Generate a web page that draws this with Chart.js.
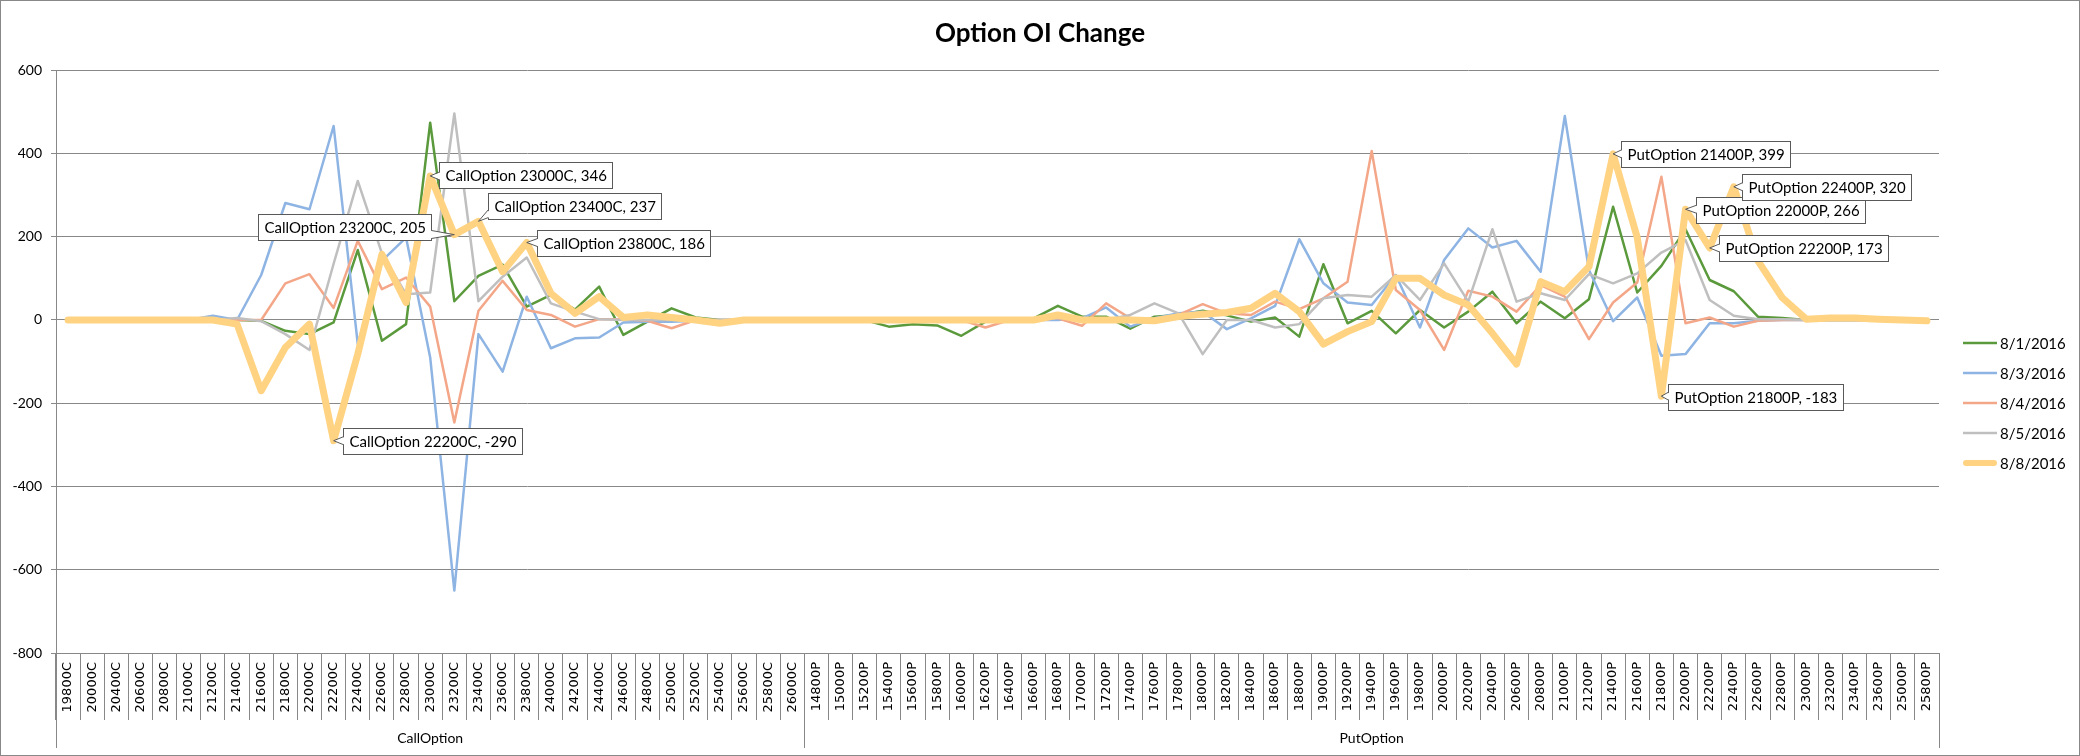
<!DOCTYPE html>
<html lang="en">
<head>
  <meta charset="UTF-8" />
  <title>Option OI Change</title>
  <script src="https://cdn.jsdelivr.net/npm/chart.js@4.4.1/dist/chart.umd.min.js"></script>
  <style>
    html, body { margin: 0; padding: 0; background: #fff; }
    #wrap { width: 2080px; height: 756px; }
  </style>
</head>
<body>
  <div id="wrap"><canvas id="oiChart" width="2080" height="756"></canvas></div>
  <script>
    // category labels, two groups on the x axis
    const callStrikes = ['19800C','20000C','20400C','20600C','20800C','21000C','21200C','21400C','21600C','21800C',
      '22000C','22200C','22400C','22600C','22800C','23000C','23200C','23400C','23600C','23800C','24000C','24200C',
      '24400C','24600C','24800C','25000C','25200C','25400C','25600C','25800C','26000C'];
    const putStrikes = ['14800P','15000P','15200P','15400P','15600P','15800P','16000P','16200P','16400P','16600P',
      '16800P','17000P','17200P','17400P','17600P','17800P','18000P','18200P','18400P','18600P','18800P','19000P',
      '19200P','19400P','19600P','19800P','20000P','20200P','20400P','20600P','20800P','21000P','21200P','21400P',
      '21600P','21800P','22000P','22200P','22400P','22600P','22800P','23000P','23200P','23400P','23600P','25000P','25800P'];
    const groupNames = ['CallOption', 'PutOption'];
    const categories = callStrikes.concat(putStrikes);

    // OI change per day (calls first, then puts)
    const oi0801 = [0,0,0,0,0,0,0, 0,-2,-26,-34,-6,168,-50,-10,474,45,106,133,32,60,25,80,-36,-4,28,6,0,0,0,0,
      0,0,0,-16,-10,-13,-38,-4,0,4, 34,8,8,-21,8,12,22,11,-4,6, -40,134,-8,22,-32,24,-18,20,68,-8,
      44,4,50,272,66,130,218,96,69,8, 5,0,0,0,0,0,0];
    const oi0803 = [0,0,0,0,0,0,10, 0,108,281,266,466,-58,142,198,-90,-650,-34,-124,56,-68,-44,-42,-6,-4,-4,-2,0,0,0,0,
      0,0,0,0,0,0,0,0,0,0, 0,4,30,-16,4,16,20,-22,4,34, 194,88,42,36,108,-18,144,220,174,190,
      116,490,120,-3,54,-86,-82,-8,-8,-2, 0,0,0,0,0,0,0];
    const oi0804 = [0,0,0,0,0,0,0, 0,0,88,110,29,190,74,102,32,-246,22,94,24,12,-16,2,2,-2,-20,0,0,0,0,0,
      0,0,0,0,0,0,0,-18,0,0, 4,-14,40,4,0,12,38,16,12,44, 26,52,92,406,72,24,-72,70,56,20,
      84,56,-46,42,90,344,-8,6,-16,-2, 0,0,0,0,0,0,0];
    const oi0805 = [0,0,0,0,0,0,0, 5,-3,-34,-72,135,334,160,62,66,496,45,104,150,40,20,2,0,0,0,0,0,0,0,0,
      0,0,0,0,0,0,0,0,0,0, 4,4,0,12,40,16,-82,0,0,-18, -10,52,60,56,108,48,136,44,218,44,
      64,48,110,88,112,162,192,48,10,2, 2,0,0,0,0,0,0];
    const oi0808 = [0,0,0,0,0,0,0, -10,-170,-66,-10,-290,-82,158,42,346,205,237,116,186,64,16,56,6,12,6,0,-8,0,0,0,
      0,0,0,0,0,0,0,0,0,0, 12,0,0,0,-2,8,14,18,28,64, 20,-58,-28,-4,100,100,60,36,-32,-106,
      92,68,128,399,198,-183,266,173,320,142, 54,2,5,5,2,0,-2];
    const seriesNames = ['8/1/2016', '8/3/2016', '8/4/2016', '8/5/2016', '8/8/2016'];

    // strikes on the 8/8 line that carry a data callout
    const calloutStrikes = ['22200C','23000C','23200C','23400C','23800C','21400P','21800P','22000P','22200P','22400P'];

    // where each callout box sits relative to its point (px)
    const calloutPlace = {
      '22200C': { dx: 9, dy: -13 },
      '23000C': { dx: 9, dy: -14 },
      '23200C': { dx: -23, dy: -21, side: 'right' },
      '23400C': { dx: 10, dy: -28 },
      '23800C': { dx: 10, dy: -13 },
      '21400P': { dx: 8, dy: -13 },
      '21800P': { dx: 7, dy: -12 },
      '22000P': { dx: 10, dy: -12 },
      '22200P': { dx: 9, dy: -13 },
      '22400P': { dx: 8, dy: -13 }
    };

    const axisGray = '#888888';

    const excelLook = {
      id: 'excelLook',
      beforeDraw(chart) {
        const ctx = chart.ctx;
        ctx.save();
        ctx.fillStyle = '#fff';
        ctx.fillRect(0, 0, chart.width, chart.height);
        ctx.restore();
      },
      afterDraw(chart) {
        const ctx = chart.ctx;
        const xs = chart.scales.x;
        const area = chart.chartArea;
        ctx.save();

        // group row under the strike labels
        const step = xs.getPixelForValue(1) - xs.getPixelForValue(0);
        const split = xs.getPixelForValue(callStrikes.length - 1) + step / 2;
        const edges = [area.left, split, area.right];
        ctx.strokeStyle = axisGray;
        ctx.lineWidth = 1;
        edges.forEach(e => {
          const px = Math.round(e) + 0.5;
          ctx.beginPath();
          ctx.moveTo(px, area.bottom);
          ctx.lineTo(px, 748);
          ctx.stroke();
        });
        ctx.fillStyle = '#000';
        ctx.font = '14px Lato';
        ctx.textAlign = 'center';
        ctx.textBaseline = 'middle';
        ctx.fillText(groupNames[0], (edges[0] + edges[1]) / 2, 738);
        ctx.fillText(groupNames[1], (edges[1] + edges[2]) / 2, 738);

        // legend
        ctx.textAlign = 'left';
        ctx.font = '15px Lato';
        chart.data.datasets.forEach((ds, k) => {
          const ly = 343 + k * 30;
          ctx.strokeStyle = ds.borderColor;
          ctx.lineWidth = k === 4 ? 6 : 2.5;
          ctx.lineCap = k === 4 ? 'round' : 'butt';
          ctx.beginPath();
          ctx.moveTo(k === 4 ? 1966 : 1963, ly);
          ctx.lineTo(k === 4 ? 1994 : 1997, ly);
          ctx.stroke();
          ctx.fillStyle = '#000';
          ctx.fillText(ds.label, 2000, ly + 1);
        });

        // data callouts on the 8/8 line
        const meta = chart.getDatasetMeta(4);
        ctx.font = '15px Lato';
        ctx.lineCap = 'butt';
        calloutStrikes.forEach(s => {
          const i = categories.indexOf(s);
          const pt = meta.data[i];
          const place = calloutPlace[s];
          const group = i < callStrikes.length ? groupNames[0] : groupNames[1];
          const text = group + ' ' + s + ', ' + oi0808[i];
          const w = Math.round(ctx.measureText(text).width + 12);
          const h = 26;
          const bx = Math.round(place.side === 'right' ? pt.x + place.dx - w : pt.x + place.dx) + 0.5;
          const by = Math.round(pt.y + place.dy) + 0.5;
          ctx.fillStyle = '#fff';
          ctx.strokeStyle = '#595959';
          ctx.lineWidth = 1;
          ctx.fillRect(bx, by, w, h);
          ctx.strokeRect(bx, by, w, h);
          // tail
          const ex = place.side === 'right' ? bx + w : bx;
          const inward = place.side === 'right' ? -1.5 : 1.5;
          const cy = Math.min(Math.max(pt.y, by + 6), by + h - 6);
          ctx.beginPath();
          ctx.moveTo(pt.x, pt.y);
          ctx.lineTo(ex + inward, cy - 4);
          ctx.lineTo(ex + inward, cy + 4);
          ctx.closePath();
          ctx.fill();
          ctx.beginPath();
          ctx.moveTo(ex, cy - 4);
          ctx.lineTo(pt.x, pt.y);
          ctx.lineTo(ex, cy + 4);
          ctx.stroke();
          ctx.fillStyle = '#000';
          ctx.textAlign = 'left';
          ctx.textBaseline = 'middle';
          ctx.fillText(text, bx + 6, by + h / 2 + 1);
        });

        // outer frame
        ctx.strokeStyle = axisGray;
        ctx.lineWidth = 1;
        ctx.strokeRect(0.5, 0.5, chart.width - 1, chart.height - 1);
        ctx.restore();
      }
    };

    const colors = ['#5B9A3C', '#8EB4E3', '#F4A788', '#BFBFBF', '#FFD382'];
    const values = [oi0801, oi0803, oi0804, oi0805, oi0808];

    new Chart(document.getElementById('oiChart'), {
      type: 'line',
      data: {
        labels: categories,
        datasets: values.map((v, k) => ({
          label: seriesNames[k],
          data: v,
          borderColor: colors[k],
          backgroundColor: colors[k],
          borderWidth: k === 4 ? 7 : 2.5,
          order: 4 - k
        }))
      },
      options: {
        responsive: false,
        animation: false,
        devicePixelRatio: 1,
        layout: { padding: { left: 0, right: 0, top: 0, bottom: 1 } },
        elements: {
          point: { radius: 0, hoverRadius: 0 },
          line: { tension: 0, borderJoinStyle: 'round', borderCapStyle: 'round' }
        },
        plugins: {
          legend: { display: false },
          tooltip: { enabled: false },
          title: {
            display: true,
            text: 'Option OI Change',
            color: '#000',
            font: { family: 'Lato', size: 26, weight: 'bold' },
            padding: { top: 18, bottom: 21 }
          }
        },
        scales: {
          x: {
            offset: true,
            grid: { offset: true, drawOnChartArea: false, tickLength: 67, color: axisGray },
            border: { color: axisGray },
            ticks: {
              autoSkip: false, minRotation: 90, maxRotation: 90, padding: -58,
              color: '#000', font: { family: 'DejaVu Sans', size: 13 }
            },
            afterFit(s) { s.height = 102; }
          },
          y: {
            min: -800,
            max: 600,
            ticks: { stepSize: 200, padding: 9, color: '#000', font: { family: 'Lato', size: 14 } },
            grid: { color: axisGray, tickLength: 5 },
            border: { color: axisGray },
            afterFit(s) { s.width = 56; }
          },
          // empty strip on the right that holds the legend
          legendStrip: {
            type: 'linear',
            position: 'right',
            grid: { display: false },
            border: { display: false },
            ticks: { display: false },
            afterFit(s) { s.width = 141; }
          }
        }
      },
      plugins: [excelLook]
    });
  </script>
</body>
</html>
